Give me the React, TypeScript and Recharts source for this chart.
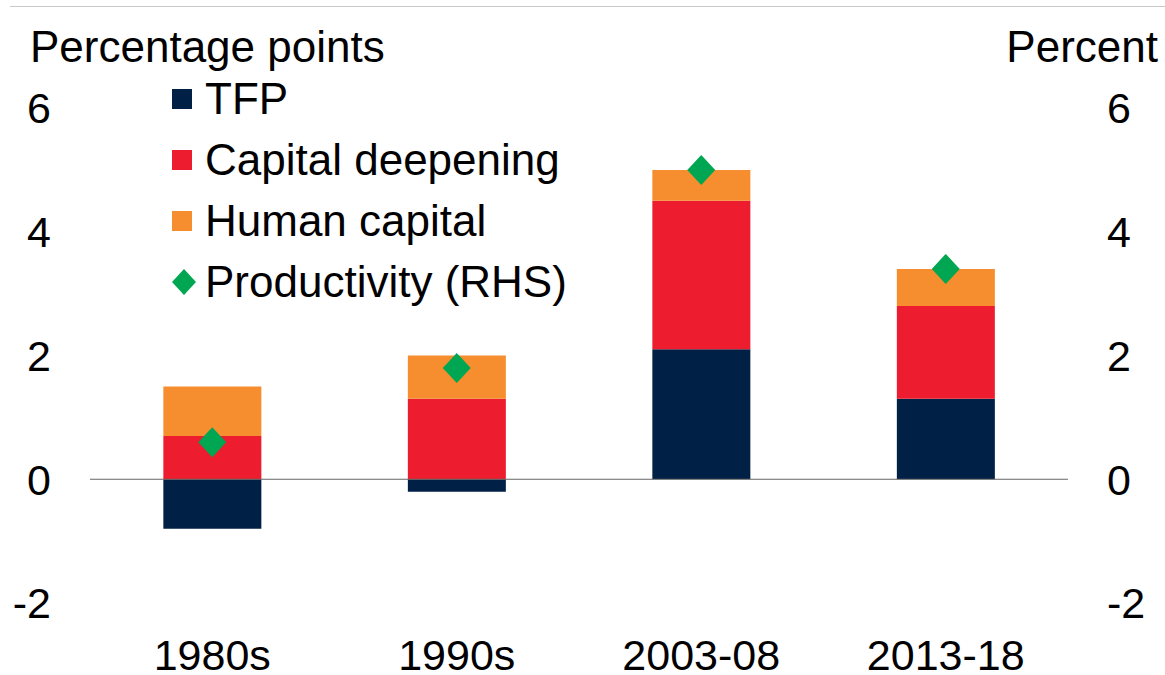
import { ComposedChart, Bar, Scatter, XAxis, YAxis, ReferenceLine } from 'recharts'

const periods = ['1980s', '1990s', '2003-08', '2013-18']
const tfp = [-0.8, -0.2, 2.1, 1.3]
const capitalDeepening = [0.7, 1.3, 2.4, 1.5]
const humanCapital = [0.8, 0.7, 0.5, 0.6]
const productivity = [0.6, 1.8, 5.0, 3.4]
const yTicks = [-2, 0, 2, 4, 6]

const data = periods.map((period, i) => ({
  period,
  tfp: tfp[i],
  capital: capitalDeepening[i],
  human: humanCapital[i],
  productivity: productivity[i],
}))

const FONT = '"Liberation Sans", Arial, sans-serif'
const NAVY = '#002145'
const RED = '#ED1C2E'
const ORANGE = '#F68D2E'
const GREEN = '#00A651'

const legendItems = [
  { label: 'TFP', color: NAVY, diamond: false },
  { label: 'Capital deepening', color: RED, diamond: false },
  { label: 'Human capital', color: ORANGE, diamond: false },
  { label: 'Productivity (RHS)', color: GREEN, diamond: true },
]

function Diamond(props: any) {
  const { cx, cy } = props
  if (cx == null || cy == null) return null
  return <path d={`M${cx},${cy - 15} L${cx + 14},${cy} L${cx},${cy + 15} L${cx - 14},${cy} Z`} fill={GREEN} />
}

// legend drawn as an overlay so it doesn't eat into the plot area
function ChartLegend() {
  return (
    <div style={{ position: 'absolute', top: 68, left: 165, fontFamily: FONT, fontSize: 44, color: '#000' }}>
      {legendItems.map((item) => (
        <div key={item.label} style={{ display: 'flex', alignItems: 'center', height: 61, lineHeight: '61px', whiteSpace: 'nowrap' }}>
          <svg width={34} height={30} style={{ marginRight: 6 }}>
            {item.diamond ? (
              <path d="M19,2 L31,15 L19,28 L7,15 Z" fill={item.color} />
            ) : (
              <rect x={7} y={5} width={20} height={20} fill={item.color} />
            )}
          </svg>
          <span>{item.label}</span>
        </div>
      ))}
    </div>
  )
}

export default function App() {
  return (
    <div style={{ position: 'absolute', left: 0, top: 0, width: 1165, height: 675, background: '#fff' }}>
      <div style={{ position: 'absolute', left: 10, right: 0, top: 6, height: 1, background: '#C8C8C8' }} />
      <svg width={1165} height={80} style={{ position: 'absolute', left: 0, top: 0 }}>
        <text x={30} y={62} textAnchor="start" fontSize={44} fontFamily={FONT} fill="#000">Percentage points</text>
        <text x={1158} y={62} textAnchor="end" fontSize={44} fontFamily={FONT} fill="#000">Percent</text>
      </svg>
      <div style={{ position: 'absolute', left: 0, top: 0 }}>
        <ComposedChart
          width={1165}
          height={675}
          data={data}
          stackOffset="sign"
          barCategoryGap="30%"
          margin={{ top: 108, right: 0, bottom: 0, left: 0 }}
        >
          <XAxis
            dataKey="period"
            axisLine={false}
            tickLine={false}
            tickSize={0}
            tickMargin={36}
            height={72}
            interval={0}
            tick={{ fontSize: 43, fill: '#000', fontFamily: FONT }}
          />
          <YAxis
            yAxisId="left"
            orientation="left"
            width={90}
            domain={[-2, 6]}
            ticks={yTicks}
            axisLine={false}
            tickLine={false}
            tickSize={0}
            tickMargin={39}
            tick={{ fontSize: 43, fill: '#000', fontFamily: FONT }}
          />
          <YAxis
            yAxisId="right"
            orientation="right"
            width={97}
            domain={[-2, 6]}
            ticks={yTicks}
            axisLine={false}
            tickLine={false}
            tickSize={0}
            tickMargin={39}
            tick={{ fontSize: 43, fill: '#000', fontFamily: FONT }}
          />
          <ReferenceLine yAxisId="left" y={0} stroke="#666" strokeWidth={1.2} />
          <Bar yAxisId="left" dataKey="tfp" stackId="a" fill={NAVY} isAnimationActive={false} />
          <Bar yAxisId="left" dataKey="capital" stackId="a" fill={RED} isAnimationActive={false} />
          <Bar yAxisId="left" dataKey="human" stackId="a" fill={ORANGE} isAnimationActive={false} />
          <Scatter yAxisId="right" dataKey="productivity" fill={GREEN} shape={<Diamond />} isAnimationActive={false} />
        </ComposedChart>
      </div>
      <ChartLegend />
    </div>
  )
}
